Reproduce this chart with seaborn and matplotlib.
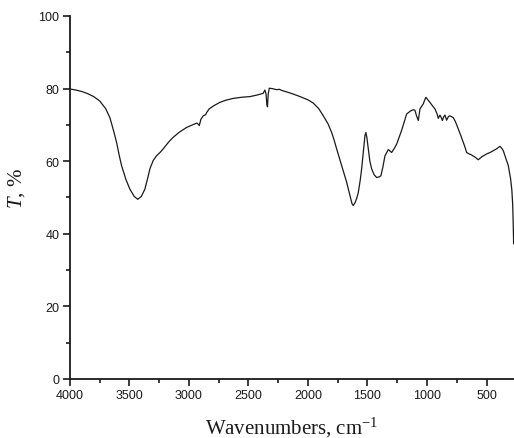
import matplotlib
matplotlib.use("Agg")
import matplotlib.pyplot as plt
from matplotlib.ticker import MultipleLocator
import seaborn as sns
import pandas as pd

# FTIR transmittance spectrum
wavenumber = [
    4000, 3950, 3900, 3850, 3800, 3750, 3700, 3664, 3630, 3608, 3585, 3566,
    3530, 3496, 3460, 3430, 3400, 3370, 3345, 3328, 3300, 3272, 3240, 3216,
    3170, 3132, 3080, 3020, 2970, 2935, 2925, 2913, 2900, 2880, 2860, 2851,
    2830, 2790, 2740, 2690, 2628, 2560, 2487, 2430, 2376, 2362, 2352, 2345,
    2340, 2334, 2325, 2300, 2263, 2240, 2221, 2170, 2124, 2067, 2000, 1955,
    1910, 1871, 1830, 1801, 1780, 1759, 1717, 1675, 1647, 1630, 1620, 1605,
    1590, 1577, 1560, 1549, 1535, 1521, 1513, 1505, 1493, 1480, 1465, 1445,
    1423, 1400, 1387, 1370, 1353, 1325, 1297, 1275, 1255, 1235, 1213, 1190,
    1171, 1140, 1115, 1101, 1088, 1073, 1059, 1031, 1020, 1009, 995, 975,
    955, 933, 915, 905, 891, 880, 871, 860, 849, 835, 820, 807, 779, 760,
    737, 715, 695, 680, 667, 645, 625, 600, 569, 540, 499, 470, 443, 415,
    387, 373, 359, 340, 317, 297, 287, 280, 275, 272,
]
transmittance = [
    79.9, 79.6, 79.2, 78.6, 77.8, 76.6, 74.5, 72.0, 68.0, 65.2, 61.5, 58.8,
    55.0, 52.3, 50.3, 49.5, 50.3, 52.3, 55.5, 57.9, 60.2, 61.5, 62.5, 63.4,
    65.3, 66.6, 68.0, 69.3, 70.0, 70.5, 70.3, 69.8, 71.5, 72.5, 72.8, 73.4,
    74.4, 75.3, 76.2, 76.8, 77.3, 77.6, 77.8, 78.2, 78.7, 79.6, 78.5, 75.5,
    75.0, 78.5, 80.1, 80.0, 79.7, 79.8, 79.5, 79.0, 78.5, 77.8, 76.9, 76.0,
    74.5, 72.5, 70.2, 67.9, 65.8, 63.4, 58.8, 54.2, 50.5, 48.3, 47.8, 48.5,
    49.8, 51.4, 55.0, 57.9, 62.5, 67.1, 67.9, 66.5, 63.4, 60.0, 57.9, 56.3,
    55.5, 55.7, 56.0, 58.5, 61.5, 63.2, 62.4, 63.5, 64.7, 66.5, 68.5, 71.0,
    73.0, 73.8, 74.2, 74.0, 72.5, 71.2, 74.4, 75.8, 76.8, 77.6, 77.0, 76.2,
    75.3, 74.4, 73.0, 71.8, 72.7, 72.0, 71.2, 72.2, 72.7, 71.3, 72.3, 72.5,
    72.0, 70.8, 68.9, 67.0, 65.2, 63.8, 62.4, 62.0, 61.7, 61.2, 60.4, 61.2,
    62.0, 62.4, 62.9, 63.4, 64.1, 63.6, 62.9, 61.0, 58.8, 55.0, 52.0, 48.0,
    42.0, 37.2,
]
x_ticks = [4000, 3500, 3000, 2500, 2000, 1500, 1000, 500]
y_ticks = [0, 20, 40, 60, 80, 100]

df = pd.DataFrame({"wavenumber": wavenumber, "T": transmittance})

sns.set_style("ticks")
plt.rcParams["font.family"] = ["Liberation Sans", "DejaVu Sans"]
plt.rcParams["mathtext.fontset"] = "custom"
plt.rcParams["mathtext.rm"] = "Liberation Serif"
plt.rcParams["mathtext.it"] = "Liberation Serif:italic"

fig = plt.figure(figsize=(5.14, 4.39), dpi=100)
ax = fig.add_axes([0.136, 0.1344, 0.864, 0.8269])

sns.lineplot(data=df, x="wavenumber", y="T", ax=ax, color="#1a1a1a",
             linewidth=0.9, estimator=None, sort=False)

ax.set_xlim(4000, 269)
ax.set_ylim(0, 100)
ax.set_xticks(x_ticks)
ax.set_yticks(y_ticks)
ax.xaxis.set_minor_locator(MultipleLocator(250))
ax.yaxis.set_minor_locator(MultipleLocator(10))

sns.despine(ax=ax)
for side in ("left", "bottom"):
    ax.spines[side].set_linewidth(1.3)
    ax.spines[side].set_color("#1a1a1a")

ax.tick_params(axis="both", which="major", direction="out", length=5,
               width=1.2, pad=2.5, labelsize=9, colors="#1a1a1a")
ax.tick_params(axis="both", which="minor", direction="out", length=3,
               width=1.2, colors="#1a1a1a")

ax.set_xlabel("Wavenumbers, cm$^{-1}$", family="Liberation Serif",
              fontsize=15, color="#1a1a1a")
ax.set_ylabel("$T$, %", family="Liberation Serif", fontsize=15,
              color="#1a1a1a")
ax.xaxis.set_label_coords(0.5, -0.099)
ax.yaxis.set_label_coords(-0.096, 0.526)

fig.savefig("out.png", dpi=100)
